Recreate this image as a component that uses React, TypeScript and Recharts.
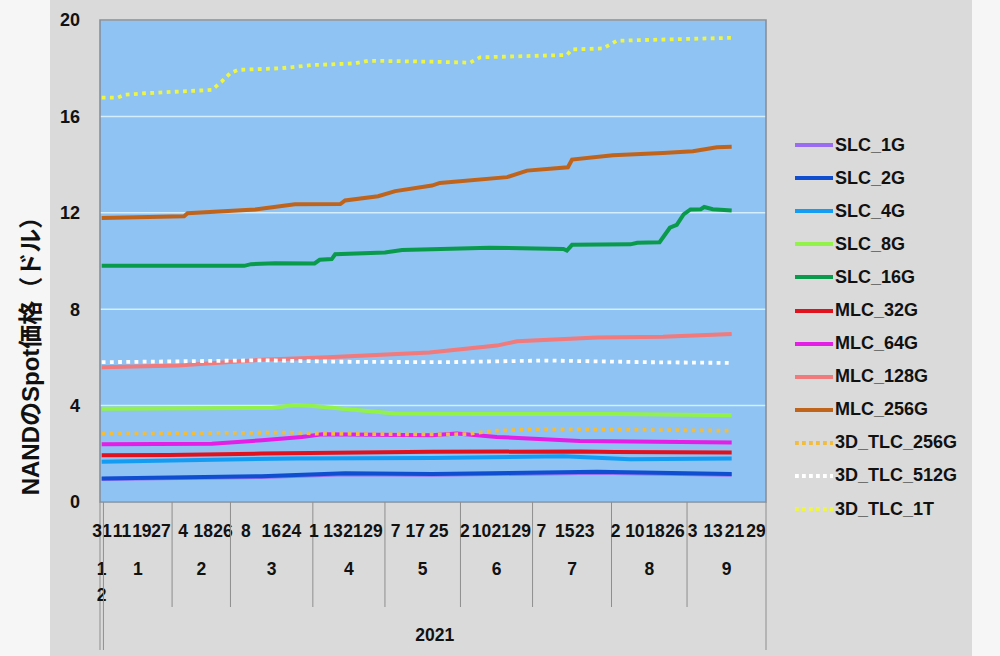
import React from 'react';
import { LineChart, Line, XAxis, YAxis, CartesianGrid, ReferenceArea, Legend } from 'recharts';

const FONT = '"Liberation Sans", Arial, Helvetica, sans-serif';

// ---- axis definitions ----
const Y_TICKS = [0, 4, 8, 12, 16, 20];
// category-index boundaries of the month groups (Dec 2020, Jan..Sep 2021)
const MONTH_BOUNDS = [0, 1, 21, 38, 62, 83, 105, 126, 149, 171, 194];
const MONTH_LABELS = ['12', '1', '2', '3', '4', '5', '6', '7', '8', '9'];
const YEAR_LABEL = '2021';
const DAY_TICKS: [number, string][] = [
  [0.6, '31'], [6.4, '11'], [12.2, '19'], [17.8, '27'],
  [24.2, '4'], [30.1, '18'], [35.8, '26'],
  [42.5, '8'], [49.9, '16'], [55.8, '24'],
  [62.3, '1'], [67.9, '13'], [73.7, '21'], [79.5, '29'],
  [86.1, '7'], [91.8, '17'], [98.7, '25'],
  [106.3, '2'], [111.1, '10'], [116.9, '21'], [122.7, '29'],
  [128.6, '7'], [135.4, '15'], [141.2, '23'],
  [150.2, '2'], [155.8, '10'], [161.7, '18'], [167.5, '26'],
  [172.6, '3'], [178.6, '13'], [184.8, '21'], [191.1, '29'],
];

// ---- series values: [category index, price USD] ----
const SLC_1G: [number, number][] = [[0.5, 0.95], [47, 1.04], [71.4, 1.15], [96.7, 1.13], [144.8, 1.21], [184, 1.13]];
const SLC_2G: [number, number][] = [[0.5, 0.98], [47, 1.07], [71.4, 1.19], [96.7, 1.16], [144.8, 1.25], [184, 1.16]];
const SLC_4G: [number, number][] = [[0.5, 1.67], [56.8, 1.81], [96.7, 1.83], [135, 1.9], [154.4, 1.77], [184, 1.8]];
const SLC_8G: [number, number][] = [[0.5, 3.87], [50, 3.9], [56.8, 4.02], [62, 3.98], [76.3, 3.8], [85.9, 3.67], [110, 3.65], [150, 3.65], [184, 3.6]];
const SLC_16G: [number, number][] = [
  [0.5, 9.8], [42, 9.8], [44, 9.87], [51, 9.91], [62.5, 9.9], [64, 10.05], [67.5, 10.08], [68.5, 10.28],
  [83, 10.35], [88, 10.46], [113.5, 10.55], [135, 10.5], [136, 10.43], [137.5, 10.67], [154.5, 10.69],
  [156.5, 10.76], [163, 10.78], [166, 11.38], [168, 11.5], [170, 11.93], [172, 12.14], [175, 12.15],
  [176, 12.24], [178.5, 12.15], [184, 12.1],
];
const MLC_32G: [number, number][] = [[0.5, 1.94], [20, 1.95], [47, 2.01], [96.7, 2.08], [140, 2.1], [150, 2.07], [184, 2.05]];
const MLC_64G: [number, number][] = [[0.5, 2.4], [32.6, 2.42], [47.2, 2.56], [58.8, 2.7], [64.7, 2.81], [96.7, 2.77], [104, 2.84], [115.6, 2.7], [139.8, 2.53], [184, 2.47]];
const MLC_128G: [number, number][] = [[0.5, 5.59], [22.7, 5.66], [47.2, 5.9], [66.4, 6.01], [96, 6.2], [115.6, 6.49], [121.5, 6.67], [144.8, 6.83], [164, 6.86], [184, 6.97]];
const MLC_256G: [number, number][] = [
  [0.5, 11.78], [24.5, 11.86], [25.5, 11.98], [45.2, 12.14], [56.8, 12.35], [70, 12.36], [71.4, 12.51],
  [81, 12.69], [86, 12.9], [96.7, 13.13], [99, 13.24], [118.6, 13.48], [124.4, 13.75], [136.3, 13.89],
  [137.5, 14.21], [149.4, 14.39], [164, 14.48], [172.7, 14.55], [179.7, 14.72], [184, 14.74],
];
const TLC3D_256G: [number, number][] = [[0.5, 2.84], [55, 2.88], [65, 2.83], [100, 2.8], [107, 2.82], [115, 2.96], [130, 3.02], [150, 3.0], [184, 2.96]];
const TLC3D_512G: [number, number][] = [[0.5, 5.8], [47, 5.88], [70, 5.82], [100, 5.8], [130, 5.87], [160, 5.8], [184, 5.77]];
const TLC3D_1T: [number, number][] = [
  [0.5, 16.78], [5.2, 16.78], [7.3, 16.9], [13, 16.96], [32.6, 17.1], [35.5, 17.45], [38, 17.8], [40.2, 17.93],
  [53, 18.0], [61.8, 18.13], [74.3, 18.2], [78.1, 18.31], [96.7, 18.27], [107.8, 18.23], [110.7, 18.45],
  [136, 18.55], [137.5, 18.78], [146.5, 18.82], [150.6, 19.14], [166.9, 19.2], [184, 19.26],
];

const SERIES = [
  { name: 'SLC_1G', color: '#9a6cf2', pts: SLC_1G, dotted: false },
  { name: 'SLC_2G', color: '#0f4fcf', pts: SLC_2G, dotted: false },
  { name: 'SLC_4G', color: '#139cf2', pts: SLC_4G, dotted: false },
  { name: 'SLC_8G', color: '#92f24a', pts: SLC_8G, dotted: false },
  { name: 'SLC_16G', color: '#0a9a4c', pts: SLC_16G, dotted: false },
  { name: 'MLC_32G', color: '#e0121e', pts: MLC_32G, dotted: false },
  { name: 'MLC_64G', color: '#e41ee4', pts: MLC_64G, dotted: false },
  { name: 'MLC_128G', color: '#f07a7c', pts: MLC_128G, dotted: false },
  { name: 'MLC_256G', color: '#c0641c', pts: MLC_256G, dotted: false },
  { name: '3D_TLC_256G', color: '#f2bc3c', pts: TLC3D_256G, dotted: true },
  { name: '3D_TLC_512G', color: '#ffffff', pts: TLC3D_512G, dotted: true },
  { name: '3D_TLC_1T', color: '#eef544', pts: TLC3D_1T, dotted: true },
];

type TickInfo = { kind: 'day' | 'sep' | 'outer' | 'month' | 'dec' | 'year'; label?: string };
const tickInfo = new Map<number, TickInfo>();
DAY_TICKS.forEach(([v, l]) => tickInfo.set(v, { kind: 'day', label: l }));
MONTH_BOUNDS.forEach((b, i) =>
  tickInfo.set(b, { kind: i <= 1 || i === MONTH_BOUNDS.length - 1 ? 'outer' : 'sep' })
);
MONTH_LABELS.forEach((l, i) => {
  const c = (MONTH_BOUNDS[i] + MONTH_BOUNDS[i + 1]) / 2;
  tickInfo.set(c, { kind: i === 0 ? 'dec' : 'month', label: l });
});
tickInfo.set((MONTH_BOUNDS[1] + MONTH_BOUNDS[MONTH_BOUNDS.length - 1]) / 2, { kind: 'year', label: YEAR_LABEL });
const X_TICKS = Array.from(tickInfo.keys()).sort((a, b) => a - b);

const textStyle = { fontFamily: FONT, fontWeight: 700, fontSize: 17.5, fill: '#111' };

const AxisTick = (props: any) => {
  const { x, y, payload } = props;
  const info = tickInfo.get(payload.value);
  if (!info) return null;
  switch (info.kind) {
    case 'day':
      return <text x={x} y={y + 35} textAnchor="middle" style={textStyle}>{info.label}</text>;
    case 'month':
      return <text x={x} y={y + 73} textAnchor="middle" style={textStyle}>{info.label}</text>;
    case 'dec':
      return (
        <g>
          <text x={x} y={y + 73} textAnchor="middle" style={textStyle}>{info.label![0]}</text>
          <text x={x} y={y + 99} textAnchor="middle" style={textStyle}>{info.label![1]}</text>
        </g>
      );
    case 'year':
      return <text x={x} y={y + 139} textAnchor="middle" style={textStyle}>{info.label}</text>;
    case 'sep':
      return <line x1={x} y1={y} x2={x} y2={y + 105} stroke="#8e8e8e" strokeWidth={1} />;
    case 'outer':
      return <line x1={x} y1={y} x2={x} y2={y + 148} stroke="#8e8e8e" strokeWidth={1} />;
  }
  return null;
};

const LegendContent = () => (
  <div style={{ fontFamily: FONT, fontWeight: 700, fontSize: 18, color: '#111' }}>
    {SERIES.map((s) => (
      <div key={s.name} style={{ height: 33.1, display: 'flex', alignItems: 'center' }}>
        <svg width={38} height={8} style={{ display: 'block' }}>
          <line
            x1={0}
            y1={4}
            x2={38}
            y2={4}
            stroke={s.color}
            strokeWidth={4}
            strokeDasharray={s.dotted ? '3.8 3.2' : undefined}
          />
        </svg>
        <span style={{ marginLeft: 2 }}>{s.name}</span>
      </div>
    ))}
  </div>
);

export default function App() {
  return (
    <div style={{ position: 'absolute', left: 0, top: 0, width: 1000, height: 656, background: '#f6f6f6', overflow: 'hidden' }}>
      <div style={{ position: 'absolute', left: 50, top: 0, width: 922, height: 656, background: '#dadada' }} />
      <div
        style={{
          position: 'absolute',
          left: 28,
          top: 350,
          transform: 'translate(-50%, -50%) rotate(-90deg)',
          whiteSpace: 'nowrap',
          fontFamily: FONT + ', "Noto Sans CJK JP"',
          fontWeight: 700,
          fontSize: 24,
          color: '#111',
        }}
      >
        NANDのSpot価格（ドル）
      </div>
      <div style={{ position: 'absolute', left: 0, top: 0 }}>
        <LineChart width={1000} height={656} margin={{ top: 20, right: 234, bottom: 0, left: 0 }}>
          <CartesianGrid horizontal vertical={false} fill="#8ec3f3" stroke="#d4eefc" strokeWidth={1.5} />
          <XAxis
            type="number"
            dataKey="x"
            domain={[0, 194]}
            ticks={X_TICKS}
            interval={0}
            height={154}
            axisLine={false}
            tickLine={false}
            tickSize={0}
            tickMargin={0}
            tick={<AxisTick />}
            allowDataOverflow
          />
          <YAxis
            type="number"
            domain={[0, 20]}
            ticks={Y_TICKS}
            interval={0}
            width={100}
            axisLine={false}
            tickLine={false}
            tickSize={0}
            tickMargin={20}
            tick={{ ...textStyle, fontSize: 18 }}
          />
          <ReferenceArea x1={0} x2={194} y1={0} y2={20} fill="none" stroke="#858c96" strokeWidth={1.5} />
          {SERIES.map((s) => (
            <Line
              key={s.name}
              name={s.name}
              data={s.pts.map(([x, v]) => ({ x, v }))}
              dataKey="v"
              type="linear"
              stroke={s.color}
              strokeWidth={s.dotted ? 3.8 : 4}
              strokeDasharray={s.dotted ? '3.8 4.4' : undefined}
              dot={false}
              activeDot={false}
              isAnimationActive={false}
            />
          ))}
          <Legend
            layout="vertical"
            align="center"
            verticalAlign="middle"
            wrapperStyle={{ left: 795, top: 128.5, width: 185, height: 400 }}
            content={<LegendContent />}
          />
        </LineChart>
      </div>
    </div>
  );
}
